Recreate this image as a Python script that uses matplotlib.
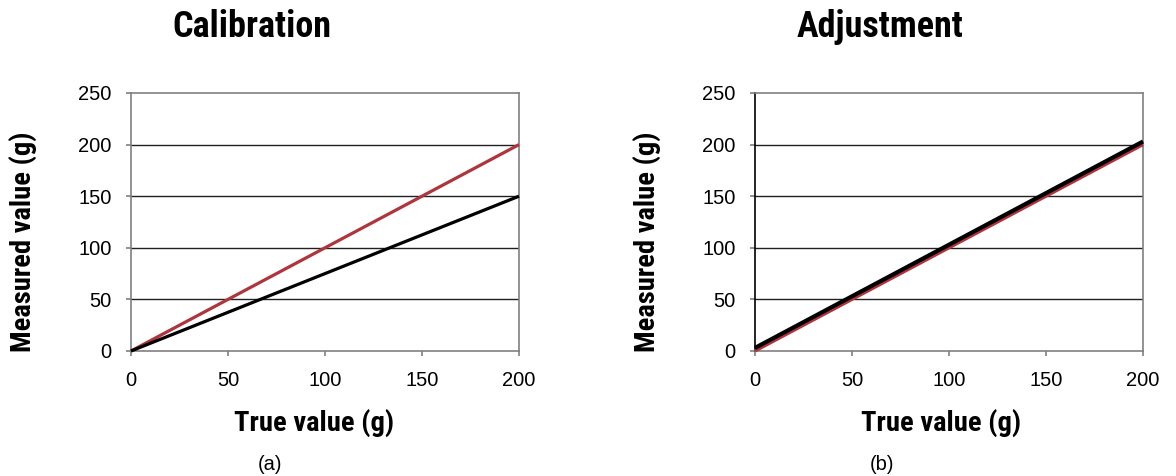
import numpy as np
import matplotlib
matplotlib.use("Agg")
import matplotlib.pyplot as plt

# ---------------- data ----------------
true_vals = [0, 200]
cal_ideal = [0, 200]        # red reference line
cal_measured = [0, 150]     # black: balance before calibration
adj_ideal = [0, 200]
adj_measured = [3, 203]     # black: after adjustment

x_ticks = [0, 50, 100, 150, 200]
y_ticks = [0, 50, 100, 150, 200, 250]

RED = '#b0343c'
SPINE = '#808080'
W, H = 1176, 476

bold_fam = ['Roboto Condensed', 'IBM Plex Sans Condensed', 'DejaVu Sans']
tick_fam = ['Liberation Sans', 'DejaVu Sans']

fig = plt.figure(figsize=(W/100, H/100), dpi=100)


def px(x, y):
    # pixel (from top-left) -> figure fraction
    return x / W, 1 - y / H


def make_panel(left, ideal, measured, title, tag, title_x, xlab_x, ylab_x, tag_x, black_lw):
    ax = fig.add_axes([left / W, (H - 351) / H, 388 / W, 258 / H])
    ax.plot(true_vals, ideal, color=RED, lw=2.3, solid_capstyle='butt', clip_on=False, zorder=3)
    ax.plot(true_vals, measured, color='black', lw=black_lw, solid_capstyle='butt', clip_on=False, zorder=4)
    ax.set_xlim(0, 200)
    ax.set_ylim(0, 250)
    ax.set_xticks(x_ticks)
    ax.set_yticks(y_ticks)
    for yv in y_ticks[1:-1]:
        ax.axhline(yv, color='#202020', lw=1.0, zorder=1)
    for s in ax.spines.values():
        s.set_color(SPINE)
        s.set_linewidth(1.2)
    ax.tick_params(direction='out', length=3.6, width=1.2, color=SPINE, pad=10.5,
                   labelsize=14.5)
    for lab in ax.get_xticklabels() + ax.get_yticklabels():
        lab.set_family(tick_fam)

    fig.text(*px(title_x, 27), title, ha='center', va='center', fontsize=26,
             fontweight='bold', family=bold_fam, stretch='condensed')
    fig.text(*px(xlab_x, 423), 'True value (g)', ha='center', va='center', fontsize=20.5,
             fontweight='bold', family=bold_fam, stretch='condensed')
    fig.text(*px(ylab_x, 242), 'Measured value (g)', ha='center', va='center', fontsize=20.5,
             fontweight='bold', family=bold_fam, stretch='condensed', rotation=90)
    fig.text(*px(tag_x, 465), tag, ha='center', va='center', fontsize=14.5, family=tick_fam)
    return ax


ax1 = make_panel(131, cal_ideal, cal_measured, 'Calibration', '(a)', 252, 314, 23, 270, 2.3)
ax2 = make_panel(755, adj_ideal, adj_measured, 'Adjustment', '(b)', 880, 941, 647, 882, 3.0)
ax2.spines['left'].set_color('black')

fig.savefig('out.png', dpi=100)
